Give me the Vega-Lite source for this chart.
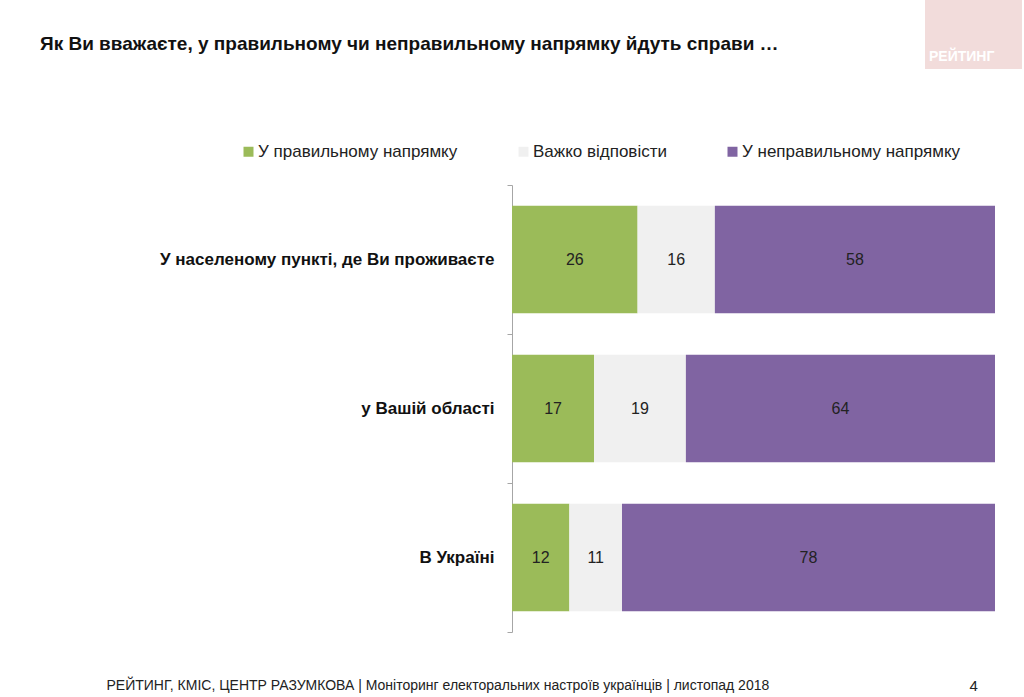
{
  "$schema": "https://vega.github.io/schema/vega-lite/v6.json",
  "width": 483,
  "height": 447,
  "autosize": {"type": "none"},
  "padding": {"left": 512, "top": 185, "right": 29, "bottom": 65},
  "background": "#ffffff",
  "config": {
    "view": {"stroke": null},
    "font": "Liberation Sans",
    "axisX": {
      "labels": false,
      "ticks": false,
      "domain": false,
      "grid": false,
      "titleAnchor": "start",
      "titleAlign": "left",
      "titleX": -406,
      "titleY": 57,
      "titleBaseline": "alphabetic",
      "titleFontSize": 14,
      "titleFontWeight": "normal",
      "titleColor": "#222222",
      "titleFont": "Liberation Sans"
    }
  },
  "title": {
    "text": "Як Ви вважаєте, у правильному чи неправильному напрямку йдуть справи …",
    "anchor": "start",
    "frame": "group",
    "dx": -472,
    "offset": -69,
    "baseline": "alphabetic",
    "fontSize": 19,
    "fontWeight": "bold",
    "font": "Liberation Sans",
    "color": "#111111"
  },
  "data": {
    "values": [
      {"category": "У населеному пункті, де Ви проживаєте", "response": "У правильному напрямку", "order": 1, "value": 26},
      {"category": "У населеному пункті, де Ви проживаєте", "response": "Важко відповісти", "order": 2, "value": 16},
      {"category": "У населеному пункті, де Ви проживаєте", "response": "У неправильному напрямку", "order": 3, "value": 58},
      {"category": "у Вашій області", "response": "У правильному напрямку", "order": 1, "value": 17},
      {"category": "у Вашій області", "response": "Важко відповісти", "order": 2, "value": 19},
      {"category": "у Вашій області", "response": "У неправильному напрямку", "order": 3, "value": 64},
      {"category": "В Україні", "response": "У правильному напрямку", "order": 1, "value": 12},
      {"category": "В Україні", "response": "Важко відповісти", "order": 2, "value": 11},
      {"category": "В Україні", "response": "У неправильному напрямку", "order": 3, "value": 78}
    ]
  },
  "transform": [
    {"stack": "value", "groupby": ["category"], "sort": [{"field": "order", "order": "ascending"}], "offset": "normalize", "as": ["x0", "x1"]}
  ],
  "layer": [
    {
      "mark": {"type": "bar", "height": {"band": 0.72}},
      "encoding": {
        "x": {
          "field": "x0",
          "type": "quantitative",
          "scale": {"domain": [0, 1], "nice": false, "zero": true},
          "axis": {"title": "РЕЙТИНГ, КМІС, ЦЕНТР РАЗУМКОВА |  Моніторинг електоральних настроїв українців | листопад 2018"}
        },
        "x2": {"field": "x1"},
        "y": {
          "field": "category",
          "type": "nominal",
          "sort": ["У населеному пункті, де Ви проживаєте", "у Вашій області", "В Україні"],
          "scale": {"paddingInner": 0, "paddingOuter": 0},
          "axis": {
            "title": null,
            "orient": "left",
            "tickBand": "extent",
            "tickSize": 5,
            "tickColor": "#A6A6A6",
            "domainColor": "#A6A6A6",
            "labelPadding": 13,
            "labelFontSize": 17,
            "labelFontWeight": "bold",
            "labelColor": "#111111",
            "labelLimit": 400,
            "labelFont": "Liberation Sans"
          }
        },
        "color": {
          "field": "response",
          "type": "nominal",
          "scale": {
            "domain": ["У правильному напрямку", "Важко відповісти", "У неправильному напрямку"],
            "range": ["#9BBB59", "#F0F0F0", "#8064A2"]
          },
          "legend": {
            "title": null,
            "orient": "none",
            "direction": "horizontal",
            "columns": 3,
            "legendX": -272,
            "legendY": -42,
            "columnPadding": 57,
            "symbolType": "square",
            "symbolSize": 100,
            "symbolStrokeWidth": 0,
            "labelFontSize": 17,
            "labelOffset": 1,
            "labelColor": "#222222",
            "labelLimit": 300,
            "labelFont": "Liberation Sans"
          }
        }
      }
    },
    {
      "transform": [
        {"fold": ["x0", "x1"], "as": ["edge", "pos"]},
        {"aggregate": [{"op": "mean", "field": "pos", "as": "xm"}], "groupby": ["category", "response", "value"]}
      ],
      "mark": {"type": "text", "fontSize": 16, "color": "#222222", "font": "Liberation Sans"},
      "encoding": {
        "x": {
          "field": "xm",
          "type": "quantitative",
          "axis": {"title": "РЕЙТИНГ, КМІС, ЦЕНТР РАЗУМКОВА |  Моніторинг електоральних настроїв українців | листопад 2018"}
        },
        "y": {
          "field": "category",
          "type": "nominal",
          "sort": ["У населеному пункті, де Ви проживаєте", "у Вашій області", "В Україні"],
          "axis": {
            "orient": "right",
            "title": "4",
            "labels": false,
            "ticks": false,
            "domain": false,
            "grid": false,
            "titleAngle": 0,
            "titleX": -26,
            "titleY": 505,
            "titleAlign": "left",
            "titleBaseline": "alphabetic",
            "titleFontSize": 15,
            "titleFontWeight": "normal",
            "titleColor": "#222222",
            "titleFont": "Liberation Sans"
          }
        },
        "text": {"field": "value", "type": "quantitative"}
      }
    },
    {
      "mark": {"type": "point", "opacity": 0},
      "encoding": {
        "y": {
          "field": "category",
          "type": "nominal",
          "sort": ["У населеному пункті, де Ви проживаєте", "у Вашій області", "В Україні"],
          "axis": null
        },
        "shape": {
          "datum": "РЕЙТИНГ",
          "legend": {
            "orient": "none",
            "legendX": 413,
            "legendY": -185,
            "fillColor": "#F2DCDB",
            "padding": 5,
            "title": "ММММ",
            "titleFontSize": 26,
            "titleOpacity": 0,
            "titleLimit": 300,
            "titlePadding": 19,
            "symbolSize": 0,
            "symbolOpacity": 0,
            "symbolStrokeWidth": 0,
            "labelOffset": -15,
            "labelFontSize": 14,
            "labelFontWeight": "bold",
            "labelColor": "#FFFFFF",
            "labelFont": "Liberation Sans"
          }
        }
      }
    }
  ],
  "resolve": {"axis": {"y": "independent"}}
}
